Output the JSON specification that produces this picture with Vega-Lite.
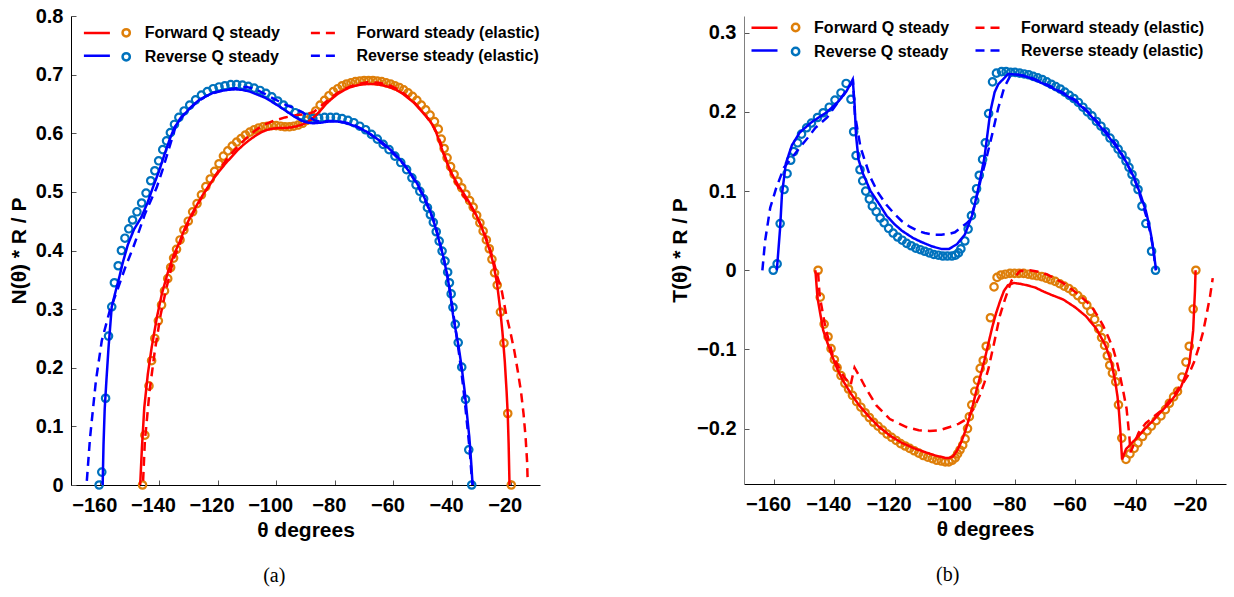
{
"$schema": "https://vega.github.io/schema/vega-lite/v6.json",
"padding": {"left": 8, "top": 6, "right": 4, "bottom": 4},
"spacing": 128,
"config": {
  "view": {"stroke": null},
  "font": "Liberation Sans",
  "axis": {"labelFont": "Liberation Sans", "labelFontWeight": "bold", "labelFontSize": 20, "labelColor": "#000",
           "titleFont": "Liberation Sans", "titleFontWeight": "bold", "titleFontSize": 21, "titleColor": "#000",
           "grid": false, "domainColor": "#000", "domainWidth": 1, "tickColor": "#555", "tickWidth": 1, "tickSize": -5,
           "labelFlush": false, "labelOverlap": false},
  "legend": {"labelFont": "Liberation Sans", "labelFontWeight": "bold", "labelFontSize": 16, "labelColor": "#000", "padding": 0, "titlePadding": 0},
  "title": {"font": "Liberation Serif", "fontWeight": "normal", "fontSize": 20, "color": "#000"}
},
"datasets": {
"aL": [
{"s":"F","x":-146.4,"y":0},{"s":"F","x":-145.8,"y":0.064},{"s":"F","x":-145,"y":0.132},{"s":"F","x":-143.8,"y":0.189},{"s":"F","x":-142.5,"y":0.234},{"s":"F","x":-140.7,"y":0.286},{"s":"F","x":-139,"y":0.326},{"s":"F","x":-137,"y":0.362},{"s":"F","x":-135,"y":0.392},{"s":"F","x":-133,"y":0.414},{"s":"F","x":-131,"y":0.44},{"s":"F","x":-129,"y":0.46},{"s":"F","x":-127,"y":0.478},{"s":"F","x":-125,"y":0.495},{"s":"F","x":-123,"y":0.51},{"s":"F","x":-121,"y":0.525},{"s":"F","x":-119,"y":0.538},{"s":"F","x":-117,"y":0.55},{"s":"F","x":-115,"y":0.561},{"s":"F","x":-113,"y":0.572},{"s":"F","x":-111,"y":0.581},{"s":"F","x":-109,"y":0.589},{"s":"F","x":-107,"y":0.596},{"s":"F","x":-105,"y":0.602},{"s":"F","x":-103,"y":0.606},{"s":"F","x":-101,"y":0.608},{"s":"F","x":-99,"y":0.609},{"s":"F","x":-97,"y":0.609},{"s":"F","x":-95,"y":0.61},{"s":"F","x":-93,"y":0.612},{"s":"F","x":-91,"y":0.615},{"s":"F","x":-89,"y":0.62},{"s":"F","x":-87,"y":0.628},{"s":"F","x":-85,"y":0.638},{"s":"F","x":-83,"y":0.65},{"s":"F","x":-81,"y":0.659},{"s":"F","x":-79,"y":0.667},{"s":"F","x":-77,"y":0.673},{"s":"F","x":-75,"y":0.678},{"s":"F","x":-73,"y":0.681},{"s":"F","x":-71,"y":0.683},{"s":"F","x":-69,"y":0.684},{"s":"F","x":-67,"y":0.684},{"s":"F","x":-65,"y":0.683},{"s":"F","x":-63,"y":0.681},{"s":"F","x":-61,"y":0.678},{"s":"F","x":-59,"y":0.674},{"s":"F","x":-57,"y":0.668},{"s":"F","x":-55,"y":0.66},{"s":"F","x":-53,"y":0.652},{"s":"F","x":-51,"y":0.641},{"s":"F","x":-49,"y":0.63},{"s":"F","x":-47,"y":0.617},{"s":"F","x":-45.5,"y":0.603},{"s":"F","x":-44.3,"y":0.585},{"s":"F","x":-43,"y":0.566},{"s":"F","x":-41.5,"y":0.547},{"s":"F","x":-40,"y":0.53},{"s":"F","x":-38,"y":0.512},{"s":"F","x":-36,"y":0.497},{"s":"F","x":-34,"y":0.481},{"s":"F","x":-32,"y":0.463},{"s":"F","x":-30,"y":0.441},{"s":"F","x":-28.5,"y":0.42},{"s":"F","x":-27,"y":0.398},{"s":"F","x":-25.8,"y":0.375},{"s":"F","x":-24.7,"y":0.345},{"s":"F","x":-23.7,"y":0.305},{"s":"F","x":-22.8,"y":0.26},{"s":"F","x":-22,"y":0.21},{"s":"F","x":-21.4,"y":0.16},{"s":"F","x":-21,"y":0.12},{"s":"F","x":-20.7,"y":0.07},{"s":"F","x":-20.4,"y":0},
{"s":"FE","x":-145.4,"y":0.007},{"s":"FE","x":-144.8,"y":0.075},{"s":"FE","x":-143.2,"y":0.16},{"s":"FE","x":-141.4,"y":0.229},{"s":"FE","x":-139.4,"y":0.291},{"s":"FE","x":-137.4,"y":0.337},{"s":"FE","x":-135,"y":0.385},{"s":"FE","x":-133,"y":0.41},{"s":"FE","x":-131,"y":0.435},{"s":"FE","x":-129,"y":0.457},{"s":"FE","x":-127,"y":0.476},{"s":"FE","x":-125,"y":0.494},{"s":"FE","x":-123,"y":0.51},{"s":"FE","x":-121,"y":0.526},{"s":"FE","x":-119,"y":0.541},{"s":"FE","x":-117,"y":0.555},{"s":"FE","x":-115,"y":0.567},{"s":"FE","x":-113,"y":0.578},{"s":"FE","x":-111,"y":0.588},{"s":"FE","x":-109,"y":0.597},{"s":"FE","x":-107,"y":0.605},{"s":"FE","x":-105,"y":0.612},{"s":"FE","x":-103,"y":0.617},{"s":"FE","x":-101,"y":0.621},{"s":"FE","x":-99,"y":0.624},{"s":"FE","x":-97,"y":0.627},{"s":"FE","x":-95,"y":0.629},{"s":"FE","x":-93,"y":0.631},{"s":"FE","x":-91,"y":0.632},{"s":"FE","x":-89,"y":0.633},{"s":"FE","x":-87,"y":0.637},{"s":"FE","x":-85,"y":0.645},{"s":"FE","x":-83,"y":0.654},{"s":"FE","x":-81,"y":0.662},{"s":"FE","x":-79,"y":0.669},{"s":"FE","x":-77,"y":0.675},{"s":"FE","x":-75,"y":0.679},{"s":"FE","x":-73,"y":0.683},{"s":"FE","x":-71,"y":0.685},{"s":"FE","x":-69,"y":0.687},{"s":"FE","x":-67,"y":0.687},{"s":"FE","x":-65,"y":0.686},{"s":"FE","x":-63,"y":0.684},{"s":"FE","x":-61,"y":0.681},{"s":"FE","x":-59,"y":0.676},{"s":"FE","x":-57,"y":0.67},{"s":"FE","x":-55,"y":0.662},{"s":"FE","x":-53,"y":0.653},{"s":"FE","x":-51,"y":0.642},{"s":"FE","x":-49,"y":0.63},{"s":"FE","x":-47,"y":0.617},{"s":"FE","x":-45.5,"y":0.603},{"s":"FE","x":-44,"y":0.585},{"s":"FE","x":-42.5,"y":0.562},{"s":"FE","x":-41,"y":0.54},{"s":"FE","x":-39,"y":0.518},{"s":"FE","x":-37,"y":0.5},{"s":"FE","x":-35,"y":0.485},{"s":"FE","x":-33,"y":0.47},{"s":"FE","x":-31,"y":0.452},{"s":"FE","x":-29,"y":0.43},{"s":"FE","x":-27.5,"y":0.41},{"s":"FE","x":-26,"y":0.385},{"s":"FE","x":-24.5,"y":0.355},{"s":"FE","x":-23,"y":0.33},{"s":"FE","x":-21.5,"y":0.29},{"s":"FE","x":-20.2,"y":0.263},{"s":"FE","x":-18.8,"y":0.23},{"s":"FE","x":-17.6,"y":0.195},{"s":"FE","x":-16.5,"y":0.16},{"s":"FE","x":-15.6,"y":0.121},{"s":"FE","x":-14.9,"y":0.08},{"s":"FE","x":-14.4,"y":0.04},{"s":"FE","x":-14.2,"y":0.005},
{"s":"R","x":-159.2,"y":0},{"s":"R","x":-158.9,"y":0.07},{"s":"R","x":-158.5,"y":0.13},{"s":"R","x":-157.9,"y":0.18},{"s":"R","x":-157.2,"y":0.234},{"s":"R","x":-156.1,"y":0.304},{"s":"R","x":-154.8,"y":0.33},{"s":"R","x":-153.5,"y":0.355},{"s":"R","x":-152.3,"y":0.38},{"s":"R","x":-150.6,"y":0.41},{"s":"R","x":-148.5,"y":0.436},{"s":"R","x":-146.1,"y":0.456},{"s":"R","x":-144,"y":0.48},{"s":"R","x":-142.1,"y":0.507},{"s":"R","x":-140,"y":0.535},{"s":"R","x":-138.1,"y":0.564},{"s":"R","x":-136.3,"y":0.59},{"s":"R","x":-134.7,"y":0.61},{"s":"R","x":-133,"y":0.622},{"s":"R","x":-131.4,"y":0.632},{"s":"R","x":-129,"y":0.645},{"s":"R","x":-126.5,"y":0.656},{"s":"R","x":-124,"y":0.663},{"s":"R","x":-121.5,"y":0.669},{"s":"R","x":-119,"y":0.672},{"s":"R","x":-116.5,"y":0.674},{"s":"R","x":-114,"y":0.675},{"s":"R","x":-111.5,"y":0.674},{"s":"R","x":-109,"y":0.671},{"s":"R","x":-106.5,"y":0.666},{"s":"R","x":-104,"y":0.661},{"s":"R","x":-101.9,"y":0.655},{"s":"R","x":-99,"y":0.646},{"s":"R","x":-96.6,"y":0.638},{"s":"R","x":-94,"y":0.629},{"s":"R","x":-91.2,"y":0.621},{"s":"R","x":-89,"y":0.618},{"s":"R","x":-87.2,"y":0.617},{"s":"R","x":-85,"y":0.618},{"s":"R","x":-82,"y":0.62},{"s":"R","x":-79,"y":0.62},{"s":"R","x":-76,"y":0.617},{"s":"R","x":-73,"y":0.612},{"s":"R","x":-70.5,"y":0.606},{"s":"R","x":-68.5,"y":0.601},{"s":"R","x":-66,"y":0.592},{"s":"R","x":-63.5,"y":0.583},{"s":"R","x":-61.5,"y":0.574},{"s":"R","x":-59,"y":0.562},{"s":"R","x":-56.4,"y":0.547},{"s":"R","x":-54,"y":0.53},{"s":"R","x":-52,"y":0.515},{"s":"R","x":-50,"y":0.496},{"s":"R","x":-48.5,"y":0.48},{"s":"R","x":-47.1,"y":0.462},{"s":"R","x":-45.7,"y":0.44},{"s":"R","x":-44.4,"y":0.416},{"s":"R","x":-43,"y":0.39},{"s":"R","x":-41.7,"y":0.359},{"s":"R","x":-40.6,"y":0.326},{"s":"R","x":-39.7,"y":0.291},{"s":"R","x":-38.7,"y":0.262},{"s":"R","x":-37.7,"y":0.234},{"s":"R","x":-36.7,"y":0.2},{"s":"R","x":-35.7,"y":0.16},{"s":"R","x":-34.9,"y":0.12},{"s":"R","x":-34.1,"y":0.081},{"s":"R","x":-33.5,"y":0.04},{"s":"R","x":-33,"y":0},
{"s":"RE","x":-164.6,"y":0.007},{"s":"RE","x":-163.5,"y":0.081},{"s":"RE","x":-161.5,"y":0.178},{"s":"RE","x":-159.5,"y":0.246},{"s":"RE","x":-156.8,"y":0.297},{"s":"RE","x":-154,"y":0.335},{"s":"RE","x":-151.5,"y":0.371},{"s":"RE","x":-148.8,"y":0.405},{"s":"RE","x":-146.8,"y":0.433},{"s":"RE","x":-144.8,"y":0.462},{"s":"RE","x":-142.8,"y":0.485},{"s":"RE","x":-140.8,"y":0.507},{"s":"RE","x":-138.8,"y":0.537},{"s":"RE","x":-136.8,"y":0.57},{"s":"RE","x":-135.3,"y":0.595},{"s":"RE","x":-134.1,"y":0.615},{"s":"RE","x":-132.5,"y":0.627},{"s":"RE","x":-130,"y":0.64},{"s":"RE","x":-127,"y":0.653},{"s":"RE","x":-124,"y":0.663},{"s":"RE","x":-121,"y":0.669},{"s":"RE","x":-118,"y":0.673},{"s":"RE","x":-115,"y":0.676},{"s":"RE","x":-112,"y":0.678},{"s":"RE","x":-110,"y":0.679},{"s":"RE","x":-107,"y":0.675},{"s":"RE","x":-104.6,"y":0.669},{"s":"RE","x":-102,"y":0.662},{"s":"RE","x":-99.3,"y":0.655},{"s":"RE","x":-96.6,"y":0.648},{"s":"RE","x":-93.9,"y":0.643},{"s":"RE","x":-91.5,"y":0.637},{"s":"RE","x":-89.9,"y":0.632},{"s":"RE","x":-88.5,"y":0.627},{"s":"RE","x":-87,"y":0.622},{"s":"RE","x":-85,"y":0.62},{"s":"RE","x":-82,"y":0.621},{"s":"RE","x":-79,"y":0.621},{"s":"RE","x":-76,"y":0.618},{"s":"RE","x":-73,"y":0.613},{"s":"RE","x":-70,"y":0.605},{"s":"RE","x":-67,"y":0.595},{"s":"RE","x":-64,"y":0.583},{"s":"RE","x":-61,"y":0.57},{"s":"RE","x":-58,"y":0.555},{"s":"RE","x":-55,"y":0.538},{"s":"RE","x":-52.5,"y":0.517},{"s":"RE","x":-50,"y":0.494},{"s":"RE","x":-48,"y":0.472},{"s":"RE","x":-46,"y":0.448},{"s":"RE","x":-44.4,"y":0.418},{"s":"RE","x":-43,"y":0.39},{"s":"RE","x":-41.7,"y":0.36},{"s":"RE","x":-40.5,"y":0.325},{"s":"RE","x":-39.5,"y":0.29},{"s":"RE","x":-38.5,"y":0.255},{"s":"RE","x":-37.5,"y":0.22},{"s":"RE","x":-36.5,"y":0.18},{"s":"RE","x":-35.6,"y":0.14},{"s":"RE","x":-34.8,"y":0.1},{"s":"RE","x":-34,"y":0.06},{"s":"RE","x":-33.4,"y":0.02},{"s":"RE","x":-33,"y":0}
],
"aP": [
{"s":"F","x":-145.6,"y":0},{"s":"F","x":-144.8,"y":0.085},{"s":"F","x":-143.4,"y":0.169},{"s":"F","x":-142.5,"y":0.212},{"s":"F","x":-141.4,"y":0.25},{"s":"F","x":-140.2,"y":0.28},{"s":"F","x":-139.1,"y":0.307},{"s":"F","x":-138.1,"y":0.331},{"s":"F","x":-137,"y":0.352},{"s":"F","x":-136,"y":0.371},{"s":"F","x":-135,"y":0.387},{"s":"F","x":-134,"y":0.402},{"s":"F","x":-132.8,"y":0.418},{"s":"F","x":-131.5,"y":0.435},{"s":"F","x":-130,"y":0.45},{"s":"F","x":-128.5,"y":0.466},{"s":"F","x":-127,"y":0.48},{"s":"F","x":-125.5,"y":0.495},{"s":"F","x":-124,"y":0.509},{"s":"F","x":-122.5,"y":0.522},{"s":"F","x":-121,"y":0.535},{"s":"F","x":-119.5,"y":0.548},{"s":"F","x":-118,"y":0.561},{"s":"F","x":-116.5,"y":0.57},{"s":"F","x":-115,"y":0.578},{"s":"F","x":-113.5,"y":0.585},{"s":"F","x":-112,"y":0.591},{"s":"F","x":-110.5,"y":0.597},{"s":"F","x":-109,"y":0.602},{"s":"F","x":-107.5,"y":0.606},{"s":"F","x":-106,"y":0.609},{"s":"F","x":-104.5,"y":0.611},{"s":"F","x":-103,"y":0.612},{"s":"F","x":-101.5,"y":0.613},{"s":"F","x":-100,"y":0.613},{"s":"F","x":-98.5,"y":0.612},{"s":"F","x":-97,"y":0.611},{"s":"F","x":-95.5,"y":0.611},{"s":"F","x":-94,"y":0.612},{"s":"F","x":-92.5,"y":0.614},{"s":"F","x":-91,"y":0.617},{"s":"F","x":-89.5,"y":0.622},{"s":"F","x":-88,"y":0.629},{"s":"F","x":-86.5,"y":0.638},{"s":"F","x":-85,"y":0.648},{"s":"F","x":-83.5,"y":0.656},{"s":"F","x":-82,"y":0.664},{"s":"F","x":-80.5,"y":0.671},{"s":"F","x":-79,"y":0.676},{"s":"F","x":-77.5,"y":0.681},{"s":"F","x":-76,"y":0.684},{"s":"F","x":-74.5,"y":0.686},{"s":"F","x":-73,"y":0.688},{"s":"F","x":-71.5,"y":0.689},{"s":"F","x":-70,"y":0.69},{"s":"F","x":-68.5,"y":0.69},{"s":"F","x":-67,"y":0.69},{"s":"F","x":-65.5,"y":0.689},{"s":"F","x":-64,"y":0.688},{"s":"F","x":-62.5,"y":0.686},{"s":"F","x":-61,"y":0.684},{"s":"F","x":-59.5,"y":0.681},{"s":"F","x":-58,"y":0.678},{"s":"F","x":-56.5,"y":0.674},{"s":"F","x":-55,"y":0.669},{"s":"F","x":-53.5,"y":0.663},{"s":"F","x":-52,"y":0.656},{"s":"F","x":-50.5,"y":0.648},{"s":"F","x":-49,"y":0.64},{"s":"F","x":-47.5,"y":0.631},{"s":"F","x":-46,"y":0.62},{"s":"F","x":-44.7,"y":0.607},{"s":"F","x":-43.7,"y":0.59},{"s":"F","x":-42.7,"y":0.574},{"s":"F","x":-41.7,"y":0.558},{"s":"F","x":-40.5,"y":0.543},{"s":"F","x":-39.3,"y":0.53},{"s":"F","x":-38,"y":0.518},{"s":"F","x":-36.7,"y":0.507},{"s":"F","x":-35.3,"y":0.496},{"s":"F","x":-34,"y":0.485},{"s":"F","x":-32.8,"y":0.474},{"s":"F","x":-31.6,"y":0.46},{"s":"F","x":-30.5,"y":0.447},{"s":"F","x":-29.4,"y":0.433},{"s":"F","x":-28.3,"y":0.418},{"s":"F","x":-27.3,"y":0.403},{"s":"F","x":-26.4,"y":0.385},{"s":"F","x":-25.5,"y":0.362},{"s":"F","x":-24.6,"y":0.341},{"s":"F","x":-23.5,"y":0.295},{"s":"F","x":-22.3,"y":0.242},{"s":"F","x":-21,"y":0.122},{"s":"F","x":-19.8,"y":0},
{"s":"R","x":-160.4,"y":0},{"s":"R","x":-159.5,"y":0.022},{"s":"R","x":-158.2,"y":0.148},{"s":"R","x":-157.2,"y":0.254},{"s":"R","x":-156.1,"y":0.304},{"s":"R","x":-155.2,"y":0.345},{"s":"R","x":-153.9,"y":0.374},{"s":"R","x":-152.8,"y":0.4},{"s":"R","x":-151.6,"y":0.421},{"s":"R","x":-150.3,"y":0.437},{"s":"R","x":-149,"y":0.452},{"s":"R","x":-147.5,"y":0.466},{"s":"R","x":-145.9,"y":0.481},{"s":"R","x":-144.4,"y":0.498},{"s":"R","x":-142.8,"y":0.519},{"s":"R","x":-141.4,"y":0.536},{"s":"R","x":-140.1,"y":0.553},{"s":"R","x":-138.7,"y":0.572},{"s":"R","x":-137.4,"y":0.587},{"s":"R","x":-136.1,"y":0.601},{"s":"R","x":-134.7,"y":0.615},{"s":"R","x":-133.2,"y":0.627},{"s":"R","x":-131.4,"y":0.638},{"s":"R","x":-129.5,"y":0.648},{"s":"R","x":-127.5,"y":0.657},{"s":"R","x":-125.5,"y":0.665},{"s":"R","x":-123.5,"y":0.671},{"s":"R","x":-121.5,"y":0.676},{"s":"R","x":-119.5,"y":0.679},{"s":"R","x":-117.5,"y":0.681},{"s":"R","x":-115.5,"y":0.683},{"s":"R","x":-113.5,"y":0.683},{"s":"R","x":-111.5,"y":0.682},{"s":"R","x":-109.5,"y":0.68},{"s":"R","x":-107.5,"y":0.677},{"s":"R","x":-105.5,"y":0.673},{"s":"R","x":-103.5,"y":0.668},{"s":"R","x":-101.5,"y":0.662},{"s":"R","x":-99.5,"y":0.655},{"s":"R","x":-97.5,"y":0.648},{"s":"R","x":-95.5,"y":0.641},{"s":"R","x":-93.5,"y":0.635},{"s":"R","x":-91.5,"y":0.63},{"s":"R","x":-89.5,"y":0.627},{"s":"R","x":-87.5,"y":0.625},{"s":"R","x":-85.5,"y":0.626},{"s":"R","x":-83.5,"y":0.627},{"s":"R","x":-81.5,"y":0.627},{"s":"R","x":-79.5,"y":0.627},{"s":"R","x":-77.5,"y":0.625},{"s":"R","x":-75.5,"y":0.622},{"s":"R","x":-73.5,"y":0.618},{"s":"R","x":-71.5,"y":0.612},{"s":"R","x":-69.5,"y":0.606},{"s":"R","x":-67.5,"y":0.598},{"s":"R","x":-65.5,"y":0.59},{"s":"R","x":-63.5,"y":0.581},{"s":"R","x":-61.5,"y":0.572},{"s":"R","x":-59.5,"y":0.561},{"s":"R","x":-57.5,"y":0.55},{"s":"R","x":-55.5,"y":0.538},{"s":"R","x":-53.7,"y":0.524},{"s":"R","x":-52.3,"y":0.512},{"s":"R","x":-51,"y":0.501},{"s":"R","x":-49.7,"y":0.488},{"s":"R","x":-48.4,"y":0.473},{"s":"R","x":-47.4,"y":0.461},{"s":"R","x":-46.4,"y":0.448},{"s":"R","x":-45.4,"y":0.432},{"s":"R","x":-44.4,"y":0.416},{"s":"R","x":-43.4,"y":0.399},{"s":"R","x":-42.4,"y":0.382},{"s":"R","x":-41.5,"y":0.363},{"s":"R","x":-40.9,"y":0.345},{"s":"R","x":-40.3,"y":0.326},{"s":"R","x":-39.7,"y":0.303},{"s":"R","x":-38.9,"y":0.274},{"s":"R","x":-37.9,"y":0.243},{"s":"R","x":-36.7,"y":0.201},{"s":"R","x":-35.4,"y":0.146},{"s":"R","x":-34.3,"y":0.06},{"s":"R","x":-33.3,"y":0}
],
"bL": [
{"s":"F","x":-146.3,"y":0},{"s":"F","x":-145.6,"y":-0.035},{"s":"F","x":-143.7,"y":-0.076},{"s":"F","x":-141.1,"y":-0.105},{"s":"F","x":-139,"y":-0.125},{"s":"F","x":-137.2,"y":-0.139},{"s":"F","x":-134.5,"y":-0.156},{"s":"F","x":-131.9,"y":-0.17},{"s":"F","x":-128.5,"y":-0.185},{"s":"F","x":-125.4,"y":-0.197},{"s":"F","x":-121.5,"y":-0.209},{"s":"F","x":-117.6,"y":-0.218},{"s":"F","x":-113.5,"y":-0.225},{"s":"F","x":-109.7,"y":-0.23},{"s":"F","x":-106.5,"y":-0.234},{"s":"F","x":-103.2,"y":-0.237},{"s":"F","x":-101.8,"y":-0.237},{"s":"F","x":-100.6,"y":-0.235},{"s":"F","x":-99.3,"y":-0.228},{"s":"F","x":-98,"y":-0.218},{"s":"F","x":-96.7,"y":-0.205},{"s":"F","x":-95.4,"y":-0.189},{"s":"F","x":-94,"y":-0.17},{"s":"F","x":-92.8,"y":-0.151},{"s":"F","x":-91.5,"y":-0.133},{"s":"F","x":-90.2,"y":-0.114},{"s":"F","x":-88.9,"y":-0.093},{"s":"F","x":-87.6,"y":-0.072},{"s":"F","x":-86.3,"y":-0.054},{"s":"F","x":-85,"y":-0.039},{"s":"F","x":-83.7,"y":-0.026},{"s":"F","x":-82.4,"y":-0.019},{"s":"F","x":-80.5,"y":-0.016},{"s":"F","x":-78.5,"y":-0.017},{"s":"F","x":-76,"y":-0.019},{"s":"F","x":-73.2,"y":-0.022},{"s":"F","x":-70.5,"y":-0.027},{"s":"F","x":-68,"y":-0.031},{"s":"F","x":-64,"y":-0.037},{"s":"F","x":-60,"y":-0.047},{"s":"F","x":-56.5,"y":-0.058},{"s":"F","x":-53,"y":-0.074},{"s":"F","x":-50,"y":-0.095},{"s":"F","x":-48,"y":-0.117},{"s":"F","x":-46.7,"y":-0.142},{"s":"F","x":-46,"y":-0.16},{"s":"F","x":-45.5,"y":-0.18},{"s":"F","x":-45.1,"y":-0.201},{"s":"F","x":-44.8,"y":-0.22},{"s":"F","x":-44.5,"y":-0.239},{"s":"F","x":-43.2,"y":-0.226},{"s":"F","x":-41.2,"y":-0.218},{"s":"F","x":-39.2,"y":-0.21},{"s":"F","x":-36.6,"y":-0.199},{"s":"F","x":-34,"y":-0.189},{"s":"F","x":-31.4,"y":-0.178},{"s":"F","x":-28.8,"y":-0.168},{"s":"F","x":-26.8,"y":-0.158},{"s":"F","x":-24.9,"y":-0.147},{"s":"F","x":-23.5,"y":-0.133},{"s":"F","x":-22.2,"y":-0.118},{"s":"F","x":-21.5,"y":-0.097},{"s":"F","x":-20.9,"y":-0.076},{"s":"F","x":-20.6,"y":-0.05},{"s":"F","x":-20.3,"y":-0.026},{"s":"F","x":-20.1,"y":0},
{"s":"FE","x":-145.4,"y":-0.003},{"s":"FE","x":-144.9,"y":-0.032},{"s":"FE","x":-142.9,"y":-0.074},{"s":"FE","x":-140.5,"y":-0.108},{"s":"FE","x":-137.1,"y":-0.133},{"s":"FE","x":-134.6,"y":-0.145},{"s":"FE","x":-134.1,"y":-0.136},{"s":"FE","x":-133.3,"y":-0.123},{"s":"FE","x":-131.5,"y":-0.135},{"s":"FE","x":-129.4,"y":-0.15},{"s":"FE","x":-126,"y":-0.171},{"s":"FE","x":-121.6,"y":-0.188},{"s":"FE","x":-116.1,"y":-0.198},{"s":"FE","x":-112,"y":-0.202},{"s":"FE","x":-108.4,"y":-0.203},{"s":"FE","x":-105,"y":-0.202},{"s":"FE","x":-101.7,"y":-0.198},{"s":"FE","x":-98.8,"y":-0.194},{"s":"FE","x":-96.1,"y":-0.188},{"s":"FE","x":-93.8,"y":-0.175},{"s":"FE","x":-91.7,"y":-0.158},{"s":"FE","x":-90.2,"y":-0.142},{"s":"FE","x":-88.9,"y":-0.125},{"s":"FE","x":-87.8,"y":-0.106},{"s":"FE","x":-86.7,"y":-0.087},{"s":"FE","x":-85.1,"y":-0.058},{"s":"FE","x":-83.4,"y":-0.037},{"s":"FE","x":-81.2,"y":-0.013},{"s":"FE","x":-78.4,"y":-0.001},{"s":"FE","x":-75.1,"y":0},{"s":"FE","x":-72,"y":-0.002},{"s":"FE","x":-69.6,"y":-0.005},{"s":"FE","x":-67,"y":-0.01},{"s":"FE","x":-64.1,"y":-0.016},{"s":"FE","x":-61.2,"y":-0.024},{"s":"FE","x":-58.5,"y":-0.032},{"s":"FE","x":-56.2,"y":-0.04},{"s":"FE","x":-54.1,"y":-0.049},{"s":"FE","x":-52.4,"y":-0.059},{"s":"FE","x":-50.8,"y":-0.07},{"s":"FE","x":-49,"y":-0.085},{"s":"FE","x":-47.4,"y":-0.1},{"s":"FE","x":-46.2,"y":-0.116},{"s":"FE","x":-45.2,"y":-0.133},{"s":"FE","x":-44,"y":-0.155},{"s":"FE","x":-43,"y":-0.175},{"s":"FE","x":-42.1,"y":-0.209},{"s":"FE","x":-41.7,"y":-0.23},{"s":"FE","x":-40.8,"y":-0.222},{"s":"FE","x":-39,"y":-0.205},{"s":"FE","x":-36.6,"y":-0.193},{"s":"FE","x":-34,"y":-0.185},{"s":"FE","x":-31.4,"y":-0.177},{"s":"FE","x":-28.8,"y":-0.165},{"s":"FE","x":-26.1,"y":-0.151},{"s":"FE","x":-24,"y":-0.141},{"s":"FE","x":-22.2,"y":-0.13},{"s":"FE","x":-20.5,"y":-0.115},{"s":"FE","x":-19,"y":-0.097},{"s":"FE","x":-17.6,"y":-0.078},{"s":"FE","x":-16.4,"y":-0.055},{"s":"FE","x":-15.3,"y":-0.033},{"s":"FE","x":-14.4,"y":-0.01},
{"s":"R","x":-159.1,"y":0},{"s":"R","x":-158,"y":0.054},{"s":"R","x":-157.4,"y":0.096},{"s":"R","x":-156.1,"y":0.135},{"s":"R","x":-154.1,"y":0.158},{"s":"R","x":-151.5,"y":0.174},{"s":"R","x":-147.6,"y":0.187},{"s":"R","x":-142.4,"y":0.2},{"s":"R","x":-138.5,"y":0.214},{"s":"R","x":-136,"y":0.226},{"s":"R","x":-133.9,"y":0.241},{"s":"R","x":-133.3,"y":0.21},{"s":"R","x":-132.8,"y":0.17},{"s":"R","x":-132,"y":0.14},{"s":"R","x":-130.5,"y":0.122},{"s":"R","x":-128,"y":0.1},{"s":"R","x":-125,"y":0.083},{"s":"R","x":-122.7,"y":0.069},{"s":"R","x":-120,"y":0.058},{"s":"R","x":-117.6,"y":0.05},{"s":"R","x":-114,"y":0.041},{"s":"R","x":-111.3,"y":0.036},{"s":"R","x":-107.5,"y":0.03},{"s":"R","x":-104.5,"y":0.027},{"s":"R","x":-101.9,"y":0.027},{"s":"R","x":-99.3,"y":0.033},{"s":"R","x":-96.7,"y":0.045},{"s":"R","x":-94.1,"y":0.071},{"s":"R","x":-92.2,"y":0.104},{"s":"R","x":-90.2,"y":0.142},{"s":"R","x":-88.2,"y":0.201},{"s":"R","x":-86.8,"y":0.225},{"s":"R","x":-85.6,"y":0.235},{"s":"R","x":-82.3,"y":0.248},{"s":"R","x":-79,"y":0.247},{"s":"R","x":-75.8,"y":0.244},{"s":"R","x":-72,"y":0.238},{"s":"R","x":-68,"y":0.231},{"s":"R","x":-64,"y":0.223},{"s":"R","x":-60.1,"y":0.214},{"s":"R","x":-56,"y":0.2},{"s":"R","x":-52.3,"y":0.184},{"s":"R","x":-49,"y":0.169},{"s":"R","x":-45.8,"y":0.153},{"s":"R","x":-43,"y":0.136},{"s":"R","x":-40.5,"y":0.117},{"s":"R","x":-38.5,"y":0.097},{"s":"R","x":-36.6,"y":0.075},{"s":"R","x":-35.5,"y":0.057},{"s":"R","x":-34.7,"y":0.041},{"s":"R","x":-33.9,"y":0.02},{"s":"R","x":-33.2,"y":0},
{"s":"RE","x":-163.9,"y":0},{"s":"RE","x":-163,"y":0.037},{"s":"RE","x":-161.3,"y":0.079},{"s":"RE","x":-159.3,"y":0.104},{"s":"RE","x":-156.7,"y":0.13},{"s":"RE","x":-154.1,"y":0.142},{"s":"RE","x":-151.5,"y":0.155},{"s":"RE","x":-148.9,"y":0.167},{"s":"RE","x":-146.3,"y":0.18},{"s":"RE","x":-142.4,"y":0.193},{"s":"RE","x":-138.5,"y":0.214},{"s":"RE","x":-134.5,"y":0.235},{"s":"RE","x":-133.8,"y":0.238},{"s":"RE","x":-133.2,"y":0.197},{"s":"RE","x":-131.3,"y":0.155},{"s":"RE","x":-128,"y":0.117},{"s":"RE","x":-125.5,"y":0.098},{"s":"RE","x":-122.8,"y":0.083},{"s":"RE","x":-120,"y":0.071},{"s":"RE","x":-117.6,"y":0.062},{"s":"RE","x":-115,"y":0.055},{"s":"RE","x":-112.4,"y":0.05},{"s":"RE","x":-110,"y":0.047},{"s":"RE","x":-107.2,"y":0.045},{"s":"RE","x":-104.5,"y":0.045},{"s":"RE","x":-101.9,"y":0.046},{"s":"RE","x":-100,"y":0.048},{"s":"RE","x":-98,"y":0.054},{"s":"RE","x":-96.2,"y":0.059},{"s":"RE","x":-94.8,"y":0.064},{"s":"RE","x":-93.4,"y":0.083},{"s":"RE","x":-91.5,"y":0.113},{"s":"RE","x":-89.5,"y":0.142},{"s":"RE","x":-87.6,"y":0.172},{"s":"RE","x":-85.6,"y":0.205},{"s":"RE","x":-83.6,"y":0.231},{"s":"RE","x":-81.7,"y":0.245},{"s":"RE","x":-79,"y":0.247},{"s":"RE","x":-75.8,"y":0.245},{"s":"RE","x":-72,"y":0.239},{"s":"RE","x":-68,"y":0.232},{"s":"RE","x":-64,"y":0.224},{"s":"RE","x":-60,"y":0.215},{"s":"RE","x":-56,"y":0.201},{"s":"RE","x":-52,"y":0.185},{"s":"RE","x":-48,"y":0.167},{"s":"RE","x":-45,"y":0.15},{"s":"RE","x":-42,"y":0.128},{"s":"RE","x":-40,"y":0.111},{"s":"RE","x":-38.2,"y":0.09},{"s":"RE","x":-36.6,"y":0.07},{"s":"RE","x":-35.3,"y":0.05},{"s":"RE","x":-34.2,"y":0.028},{"s":"RE","x":-33.3,"y":0}
],
"bP": [
{"s":"F","x":-145.4,"y":0},{"s":"F","x":-144.7,"y":-0.034},{"s":"F","x":-143.4,"y":-0.068},{"s":"F","x":-142.1,"y":-0.084},{"s":"F","x":-141.1,"y":-0.099},{"s":"F","x":-140,"y":-0.113},{"s":"F","x":-139.1,"y":-0.123},{"s":"F","x":-137.8,"y":-0.133},{"s":"F","x":-136.5,"y":-0.143},{"s":"F","x":-135.3,"y":-0.15},{"s":"F","x":-134,"y":-0.158},{"s":"F","x":-132.6,"y":-0.166},{"s":"F","x":-131.2,"y":-0.173},{"s":"F","x":-129.8,"y":-0.18},{"s":"F","x":-128.4,"y":-0.186},{"s":"F","x":-127,"y":-0.192},{"s":"F","x":-125.5,"y":-0.197},{"s":"F","x":-124,"y":-0.202},{"s":"F","x":-122.5,"y":-0.207},{"s":"F","x":-121,"y":-0.211},{"s":"F","x":-119.5,"y":-0.215},{"s":"F","x":-118,"y":-0.219},{"s":"F","x":-116.5,"y":-0.222},{"s":"F","x":-115,"y":-0.225},{"s":"F","x":-113.5,"y":-0.228},{"s":"F","x":-112,"y":-0.231},{"s":"F","x":-110.5,"y":-0.234},{"s":"F","x":-109,"y":-0.236},{"s":"F","x":-107.5,"y":-0.238},{"s":"F","x":-106,"y":-0.24},{"s":"F","x":-104.5,"y":-0.241},{"s":"F","x":-103.2,"y":-0.242},{"s":"F","x":-102,"y":-0.242},{"s":"F","x":-100.9,"y":-0.24},{"s":"F","x":-99.9,"y":-0.237},{"s":"F","x":-99.1,"y":-0.232},{"s":"F","x":-98.3,"y":-0.227},{"s":"F","x":-97.4,"y":-0.221},{"s":"F","x":-96.6,"y":-0.213},{"s":"F","x":-95.8,"y":-0.2},{"s":"F","x":-95.2,"y":-0.185},{"s":"F","x":-94.4,"y":-0.17},{"s":"F","x":-93.4,"y":-0.153},{"s":"F","x":-92.5,"y":-0.139},{"s":"F","x":-91.6,"y":-0.124},{"s":"F","x":-90.6,"y":-0.114},{"s":"F","x":-89.6,"y":-0.096},{"s":"F","x":-88.2,"y":-0.06},{"s":"F","x":-87,"y":-0.021},{"s":"F","x":-86,"y":-0.009},{"s":"F","x":-84.7,"y":-0.006},{"s":"F","x":-83.2,"y":-0.005},{"s":"F","x":-81.7,"y":-0.004},{"s":"F","x":-80.2,"y":-0.004},{"s":"F","x":-78.7,"y":-0.004},{"s":"F","x":-77.2,"y":-0.004},{"s":"F","x":-75.7,"y":-0.005},{"s":"F","x":-74.2,"y":-0.006},{"s":"F","x":-72.7,"y":-0.007},{"s":"F","x":-71.2,"y":-0.008},{"s":"F","x":-69.7,"y":-0.01},{"s":"F","x":-68.2,"y":-0.012},{"s":"F","x":-66.7,"y":-0.014},{"s":"F","x":-65.2,"y":-0.017},{"s":"F","x":-63.7,"y":-0.02},{"s":"F","x":-62.2,"y":-0.023},{"s":"F","x":-60.7,"y":-0.027},{"s":"F","x":-59.2,"y":-0.032},{"s":"F","x":-57.7,"y":-0.037},{"s":"F","x":-56.2,"y":-0.044},{"s":"F","x":-54.9,"y":-0.052},{"s":"F","x":-53.6,"y":-0.062},{"s":"F","x":-52.3,"y":-0.074},{"s":"F","x":-51.3,"y":-0.085},{"s":"F","x":-50.3,"y":-0.095},{"s":"F","x":-49.4,"y":-0.108},{"s":"F","x":-48.6,"y":-0.12},{"s":"F","x":-47.7,"y":-0.13},{"s":"F","x":-46.6,"y":-0.141},{"s":"F","x":-45.7,"y":-0.17},{"s":"F","x":-44.6,"y":-0.212},{"s":"F","x":-43.2,"y":-0.239},{"s":"F","x":-41.9,"y":-0.232},{"s":"F","x":-40.5,"y":-0.225},{"s":"F","x":-39.2,"y":-0.218},{"s":"F","x":-37.7,"y":-0.21},{"s":"F","x":-36.2,"y":-0.203},{"s":"F","x":-34.8,"y":-0.197},{"s":"F","x":-33.2,"y":-0.19},{"s":"F","x":-31.6,"y":-0.184},{"s":"F","x":-30.1,"y":-0.176},{"s":"F","x":-28.8,"y":-0.168},{"s":"F","x":-27.4,"y":-0.16},{"s":"F","x":-26.1,"y":-0.153},{"s":"F","x":-24.6,"y":-0.135},{"s":"F","x":-23.3,"y":-0.116},{"s":"F","x":-22.2,"y":-0.096},{"s":"F","x":-20.9,"y":-0.049},{"s":"F","x":-20,"y":0},
{"s":"R","x":-160.3,"y":0},{"s":"R","x":-159,"y":0.008},{"s":"R","x":-158,"y":0.059},{"s":"R","x":-156.7,"y":0.102},{"s":"R","x":-155.7,"y":0.122},{"s":"R","x":-154.5,"y":0.139},{"s":"R","x":-153.5,"y":0.15},{"s":"R","x":-152.2,"y":0.161},{"s":"R","x":-150.9,"y":0.172},{"s":"R","x":-149.2,"y":0.18},{"s":"R","x":-147.6,"y":0.186},{"s":"R","x":-145.6,"y":0.193},{"s":"R","x":-143.7,"y":0.199},{"s":"R","x":-141.7,"y":0.206},{"s":"R","x":-139.8,"y":0.215},{"s":"R","x":-137.8,"y":0.224},{"s":"R","x":-136.1,"y":0.236},{"s":"R","x":-134.5,"y":0.216},{"s":"R","x":-133.6,"y":0.175},{"s":"R","x":-132.8,"y":0.145},{"s":"R","x":-131.5,"y":0.127},{"s":"R","x":-130.6,"y":0.113},{"s":"R","x":-129.6,"y":0.1},{"s":"R","x":-128.4,"y":0.09},{"s":"R","x":-127.4,"y":0.081},{"s":"R","x":-126.1,"y":0.074},{"s":"R","x":-124.8,"y":0.066},{"s":"R","x":-123.5,"y":0.06},{"s":"R","x":-122,"y":0.053},{"s":"R","x":-120.5,"y":0.047},{"s":"R","x":-119,"y":0.042},{"s":"R","x":-117.5,"y":0.038},{"s":"R","x":-116,"y":0.034},{"s":"R","x":-114.5,"y":0.031},{"s":"R","x":-113,"y":0.028},{"s":"R","x":-111.5,"y":0.026},{"s":"R","x":-110,"y":0.024},{"s":"R","x":-108.5,"y":0.022},{"s":"R","x":-107,"y":0.02},{"s":"R","x":-105.5,"y":0.019},{"s":"R","x":-104,"y":0.018},{"s":"R","x":-102.5,"y":0.018},{"s":"R","x":-101,"y":0.018},{"s":"R","x":-99.8,"y":0.019},{"s":"R","x":-98.8,"y":0.022},{"s":"R","x":-98,"y":0.027},{"s":"R","x":-96.7,"y":0.037},{"s":"R","x":-95.6,"y":0.052},{"s":"R","x":-94.5,"y":0.069},{"s":"R","x":-93.4,"y":0.088},{"s":"R","x":-92.8,"y":0.103},{"s":"R","x":-91.9,"y":0.12},{"s":"R","x":-90.8,"y":0.14},{"s":"R","x":-89.9,"y":0.161},{"s":"R","x":-88.8,"y":0.198},{"s":"R","x":-87.5,"y":0.238},{"s":"R","x":-86.2,"y":0.249},{"s":"R","x":-84.5,"y":0.251},{"s":"R","x":-83,"y":0.251},{"s":"R","x":-81.5,"y":0.25},{"s":"R","x":-80,"y":0.25},{"s":"R","x":-78.5,"y":0.249},{"s":"R","x":-77,"y":0.248},{"s":"R","x":-75.5,"y":0.247},{"s":"R","x":-74,"y":0.245},{"s":"R","x":-72.5,"y":0.243},{"s":"R","x":-71,"y":0.241},{"s":"R","x":-69.5,"y":0.238},{"s":"R","x":-68,"y":0.235},{"s":"R","x":-66.5,"y":0.232},{"s":"R","x":-65,"y":0.229},{"s":"R","x":-63.5,"y":0.225},{"s":"R","x":-62,"y":0.221},{"s":"R","x":-60.5,"y":0.217},{"s":"R","x":-59,"y":0.212},{"s":"R","x":-57.5,"y":0.206},{"s":"R","x":-56,"y":0.2},{"s":"R","x":-54.5,"y":0.195},{"s":"R","x":-53,"y":0.188},{"s":"R","x":-51.5,"y":0.182},{"s":"R","x":-50,"y":0.175},{"s":"R","x":-48.5,"y":0.167},{"s":"R","x":-47,"y":0.16},{"s":"R","x":-45.8,"y":0.153},{"s":"R","x":-44.5,"y":0.146},{"s":"R","x":-43.2,"y":0.138},{"s":"R","x":-42.2,"y":0.13},{"s":"R","x":-41.2,"y":0.121},{"s":"R","x":-40.2,"y":0.111},{"s":"R","x":-39.2,"y":0.102},{"s":"R","x":-37.9,"y":0.081},{"s":"R","x":-36.6,"y":0.059},{"s":"R","x":-34.7,"y":0.024},{"s":"R","x":-33.4,"y":0}
]
},
"hconcat": [
{
  "width": 469, "height": 469,
  "title": {"text": "(a)", "orient": "bottom", "frame": "bounds", "anchor": "middle", "offset": 26},
  "layer": [
    {"data": {"name": "aP"}, "mark": {"type": "point", "filled": false, "size": 55, "strokeWidth": 2.2, "opacity": 1},
     "encoding": {
       "x": {"field": "x", "type": "quantitative", "scale": {"domain": [-170, -10], "nice": false, "zero": false},
             "axis": {"title": "θ degrees", "values": [-160,-140,-120,-100,-80,-60,-40,-20], "format": "d", "labelOffset": -6, "labelPadding": 15, "titlePadding": 4}},
       "y": {"field": "y", "type": "quantitative", "scale": {"domain": [0, 0.8], "nice": false, "zero": false},
             "axis": {"title": "N(θ) * R / P", "values": [0,0.1,0.2,0.3,0.4,0.5,0.6,0.7,0.8], "format": "~g", "labelPadding": 13, "titlePadding": 6}},
       "color": {"field": "s", "type": "nominal", "scale": {"domain": ["F","R"], "range": ["#DE7F0A","#0072BD"]},
                 "legend": {"title": null, "orient": "none", "legendX": 40.7, "legendY": 2.3, "rowPadding": -1,
                            "symbolType": "M-0.28,0A0.28,0.28,0,1,0,0.28,0A0.28,0.28,0,1,0,-0.28,0Z", "symbolSize": 676, "symbolStrokeWidth": 2.5,
                            "labelOffset": 4, "labelLimit": 300,
                            "labelExpr": "datum.label == 'F' ? 'Forward Q steady' : 'Reverse Q steady'"}}
     }},
    {"data": {"name": "aL"}, "mark": {"type": "line", "strokeWidth": 2.5},
     "encoding": {
       "x": {"field": "x", "type": "quantitative"},
       "y": {"field": "y", "type": "quantitative"},
       "stroke": {"field": "s", "type": "nominal", "scale": {"domain": ["F","R","FE","RE"], "range": ["#FF0000","#0000FF","#FF0000","#0000FF"]},
                  "legend": {"title": null, "orient": "none", "legendX": 11.4, "legendY": 2.3, "columns": 2, "columnPadding": 176, "rowPadding": -1,
                             "symbolType": "stroke", "symbolSize": 676, "symbolStrokeWidth": 2.5, "labelOffset": 18, "labelLimit": 400,
                             "labelExpr": "datum.label == 'FE' ? 'Forward steady (elastic)' : datum.label == 'RE' ? 'Reverse steady (elastic)' : ''"}},
       "strokeDash": {"field": "s", "type": "nominal", "scale": {"domain": ["F","R","FE","RE"], "range": [[1,0],[1,0],[9,6],[9,6]]}}
     }}
  ]
},
{
  "width": 482, "height": 468,
  "title": {"text": "(b)", "orient": "bottom", "frame": "bounds", "anchor": "middle", "offset": 26},
  "layer": [
    {"data": {"name": "bP"}, "mark": {"type": "point", "filled": false, "size": 55, "strokeWidth": 2.2, "opacity": 1},
     "encoding": {
       "x": {"field": "x", "type": "quantitative", "scale": {"domain": [-170, -10], "nice": false, "zero": false},
             "axis": {"title": "θ degrees", "values": [-160,-140,-120,-100,-80,-60,-40,-20], "format": "d", "labelOffset": -6, "labelPadding": 15, "titlePadding": 4}},
       "y": {"field": "y", "type": "quantitative", "scale": {"domain": [-0.27, 0.3212], "nice": false, "zero": false},
             "axis": {"title": "T(θ) * R / P", "values": [-0.2,-0.1,0,0.1,0.2,0.3], "format": "~g", "labelPadding": 13, "titlePadding": 6, "domainColor": "#808080"}},
       "color": {"field": "s", "type": "nominal", "scale": {"domain": ["F","R"], "range": ["#DE7F0A","#0072BD"]},
                 "legend": {"title": null, "orient": "none", "legendX": 37.1, "legendY": -3, "rowPadding": -1,
                            "symbolType": "M-0.28,0A0.28,0.28,0,1,0,0.28,0A0.28,0.28,0,1,0,-0.28,0Z", "symbolSize": 676, "symbolStrokeWidth": 2.5,
                            "labelOffset": 4, "labelLimit": 300,
                            "labelExpr": "datum.label == 'F' ? 'Forward Q steady' : 'Reverse Q steady'"}}
     }},
    {"data": {"name": "bL"}, "mark": {"type": "line", "strokeWidth": 2.5},
     "encoding": {
       "x": {"field": "x", "type": "quantitative"},
       "y": {"field": "y", "type": "quantitative"},
       "stroke": {"field": "s", "type": "nominal", "scale": {"domain": ["F","R","FE","RE"], "range": ["#FF0000","#0000FF","#FF0000","#0000FF"]},
                  "legend": {"title": null, "orient": "none", "legendX": 6, "legendY": -3, "columns": 2, "columnPadding": 173, "rowPadding": -1,
                             "symbolType": "stroke", "symbolSize": 676, "symbolStrokeWidth": 2.5, "labelOffset": 18, "labelLimit": 400,
                             "labelExpr": "datum.label == 'FE' ? 'Forward steady (elastic)' : datum.label == 'RE' ? 'Reverse steady (elastic)' : ''"}},
       "strokeDash": {"field": "s", "type": "nominal", "scale": {"domain": ["F","R","FE","RE"], "range": [[1,0],[1,0],[9,6],[9,6]]}}
     }}
  ]
}
],
"resolve": {
  "scale": {"x": "independent", "y": "independent", "color": "independent", "stroke": "independent", "strokeDash": "independent"},
  "legend": {"color": "independent", "stroke": "independent", "strokeDash": "independent"}
}
}
